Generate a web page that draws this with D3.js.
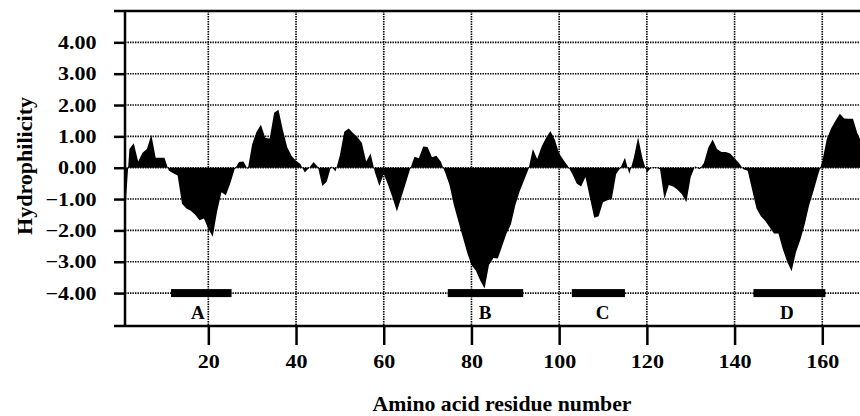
<!DOCTYPE html>
<html><head><meta charset="utf-8">
<script src="https://cdn.jsdelivr.net/npm/d3@7"></script>
<style>
body{margin:0;background:#fff}
svg{display:block}
text{font-family:"Liberation Serif","Times New Roman",serif;font-weight:bold;fill:#000}
</style>
</head><body><svg id="c" width="860" height="416"></svg>
<script>
// Hydrophilicity value per residue, starting at residue 1
const hydrophilicity = [
 -1.5, 0.6, 0.78, 0.2, 0.48, 0.6, 1.05, 0.32, 0.32, 0.32,
 -0.1, -0.18, -0.25, -1.15, -1.3, -1.37, -1.5, -1.68, -1.62, -1.95,
 -2.2, -1.4, -0.78, -0.88, -0.5, -0.05, 0.18, 0.2, -0.05, 0.75,
 1.15, 1.37, 0.95, 0.93, 1.75, 1.85, 1.2, 0.65, 0.37, 0.22,
 0.12, -0.15, 0.0, 0.18, 0.02, -0.58, -0.45, 0.05, -0.12, 0.4,
 1.15, 1.25, 1.11, 0.97, 0.8, 0.2, 0.45, -0.15, -0.58, -0.2,
 -0.55, -0.95, -1.4, -0.95, -0.5, -0.05, 0.35, 0.3, 0.68, 0.66,
 0.33, 0.38, 0.2, -0.15, -0.55, -1.2, -1.7, -2.2, -2.7, -3.1,
 -3.28, -3.6, -3.85, -3.1, -2.88, -2.9, -2.5, -2.1, -1.8, -1.2,
 -0.75, -0.4, -0.05, 0.6, 0.28, 0.68, 0.95, 1.17, 0.9, 0.45,
 0.25, 0.05, -0.2, -0.5, -0.6, -0.3, -0.95, -1.6, -1.55, -1.1,
 -1.04, -1.0, -0.2, 0.0, 0.32, -0.2, 0.3, 0.97, 0.3, -0.15,
 0.0, 0.02, -0.05, -1.0, -0.55, -0.6, -0.7, -0.85, -1.1, -0.3,
 0.05, -0.05, 0.15, 0.64, 0.9, 0.6, 0.5, 0.5, 0.45, 0.3,
 0.15, -0.05, -0.1, -0.7, -1.3, -1.55, -1.7, -1.9, -2.1, -2.1,
 -2.6, -3.0, -3.3, -2.7, -2.3, -1.8, -1.2, -0.74, -0.25, 0.2,
 0.9, 1.25, 1.5, 1.72, 1.57, 1.56, 1.56, 1.1, 0.8
];
const yTicks = [-4, -3, -2, -1, 0, 1, 2, 3, 4];
const xTicks = [20, 40, 60, 80, 100, 120, 140, 160];
const regionNames = ["A", "B", "C", "D"];
const regionStart = [11.5, 74.6, 102.9, 144.3];
const regionEnd = [25.3, 91.8, 115.0, 160.7];
const regionLabelAt = [17.6, 83.1, 109.9, 151.9];
const regionLevel = -4;
const xTitle = "Amino acid residue number";
const yTitle = "Hydrophilicity";

const svg = d3.select("#c");
const L = 125, R = 860, T = 11, B = 326;
const x = d3.scaleLinear().domain([1, 168.6]).range([L, R]);
const y = d3.scaleLinear().domain([-5.05, 5]).range([B, T]);
const STRETCH = 1.16;

svg.append("defs").append("clipPath").attr("id", "pc")
  .append("rect").attr("x", L).attr("y", T).attr("width", R - L).attr("height", B - T);

// grid
const grid = svg.append("g").attr("stroke", "#000").attr("stroke-width", 1.6)
  .attr("stroke-dasharray", "1.4,1.1");
grid.selectAll(".h").data(yTicks).join("line")
  .attr("x1", L).attr("x2", R).attr("y1", d => y(d)).attr("y2", d => y(d));
grid.selectAll(".v").data(xTicks).join("line")
  .attr("x1", d => x(d)).attr("x2", d => x(d)).attr("y1", T).attr("y2", B);

// area
const area = d3.area()
  .x((d, i) => x(i + 1))
  .y0(y(0))
  .y1(d => y(d));
svg.append("path").datum(hydrophilicity)
  .attr("clip-path", "url(#pc)")
  .attr("fill", "#000").attr("d", area);

// region bars
svg.selectAll(".bar").data(regionNames).join("rect")
  .attr("x", (d, i) => x(regionStart[i]))
  .attr("width", (d, i) => x(regionEnd[i]) - x(regionStart[i]))
  .attr("y", y(regionLevel) - 4).attr("height", 8)
  .attr("fill", "#000");
svg.selectAll(".rl").data(regionNames).join("text")
  .attr("x", (d, i) => x(regionLabelAt[i]))
  .attr("y", 319).attr("text-anchor", "middle")
  .attr("font-size", 19).text(d => d);

// axes
const yAxis = d3.axisLeft(y).tickValues(yTicks).tickSize(11).tickPadding(17.5)
  .tickFormat(d3.format(".2f"));
const gy = svg.append("g").attr("transform", `translate(${L},0)`).call(yAxis);
gy.select(".domain").remove();
gy.selectAll("line").attr("stroke", "#000").attr("stroke-width", 2.5);
gy.selectAll("text").attr("font-size", 19).attr("font-family", null);

const xAxis = d3.axisBottom(x).tickValues(xTicks).tickSize(19).tickPadding(10)
  .tickFormat(d3.format("d"));
const gx = svg.append("g").attr("transform", `translate(0,${B})`).call(xAxis);
gx.select(".domain").remove();
gx.selectAll("line").attr("stroke", "#000").attr("stroke-width", 2.5);
gx.selectAll("text").attr("font-size", 19).attr("font-family", null);

svg.selectAll("g text").each(function () {
  const len = this.getComputedTextLength();
  d3.select(this).attr("textLength", len * STRETCH).attr("lengthAdjust", "spacingAndGlyphs");
});

// frame lines
const frame = svg.append("g").attr("stroke", "#000").attr("stroke-width", 2.5);
frame.append("line").attr("x1", L).attr("x2", L).attr("y1", T).attr("y2", B);
frame.append("line").attr("x1", 114).attr("x2", R).attr("y1", T).attr("y2", T);
frame.append("line").attr("x1", 114).attr("x2", R).attr("y1", B).attr("y2", B);

// titles
svg.append("text").attr("x", 502).attr("y", 411).attr("text-anchor", "middle")
  .attr("font-size", 21).attr("textLength", 259).attr("lengthAdjust", "spacingAndGlyphs")
  .text(xTitle);
svg.append("text").attr("transform", "translate(31.5,166) rotate(-90)")
  .attr("text-anchor", "middle").attr("font-size", 21)
  .attr("textLength", 138).attr("lengthAdjust", "spacingAndGlyphs")
  .text(yTitle);
</script>
</body></html>
